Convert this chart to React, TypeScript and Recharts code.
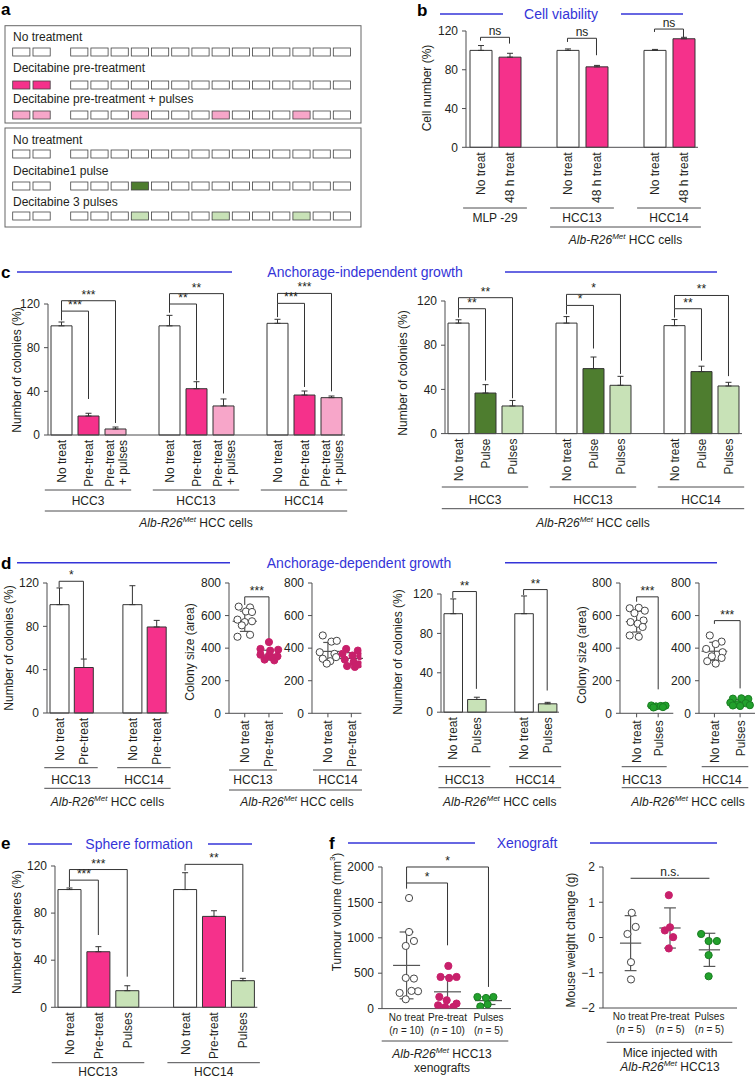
import React from 'react';
import { BarChart, Bar, Cell, ErrorBar, XAxis, YAxis, ReferenceLine, ScatterChart, Scatter } from 'recharts';

const FONT = '"Liberation Sans", Arial, Helvetica, sans-serif';
const INK = '#231f20';
const AXIS = '#4d4d4f';
const BLUE = '#3434d8';
const HOT = '#f5318b';
const LPINK = '#f7a6c9';
const DGREEN = '#4e7d2f';
const LGREEN = '#c8e2b7';
const MAG = '#c8206b';
const GREEN = '#22a12c';

// ---- panel a: treatment schedules
const schemeTop = ['No treatment', 'Decitabine pre-treatment', 'Decitabine pre-treatment + pulses'];
const schemeTopPre = [false, true, true];
const schemeTopPulses = [[], [], [3, 7, 11]];
const schemeTopColors = [null, HOT, LPINK];
const schemeBottom = ['No treatment', 'Decitabine1 pulse', 'Decitabine 3 pulses'];
const schemeBottomPre = [false, false, false];
const schemeBottomPulses = [[], [3], [3, 7, 11]];
const schemeBottomColors = [null, DGREEN, LGREEN];

// ---- shared ticks
const pctTicks = [0, 40, 80, 120];
const areaTicks = [0, 200, 400, 600, 800];
const volTicks = [0, 500, 1000, 1500, 2000];
const weightTicks = [-2, -1, 0, 1, 2];

// bracket: [group, from, to, level, fromEnd, toEnd, text]
type Bracket = [number, number, number, number, number, number, string];

// ---- panel b
const bGroups = ['MLP -29', 'HCC13', 'HCC14'];
const bCats = [['No treat'], ['48 h treat']];
const bMean = [[100, 93], [100, 83], [100, 112]];
const bErr = [[5, 4], [1.5, 1.5], [1, 1.5]];
const bFills = ['#ffffff', HOT];
const bSig: Bracket[] = [[0, 0, 1, 113.5, 110, 107, 'ns'], [1, 0, 1, 112.5, 108.7, 95, 'ns'], [2, 0, 1, 122, 119, 113.5, 'ns']];

// ---- panel c
const cGroups = ['HCC3', 'HCC13', 'HCC14'];
const cPreCats = [['No treat'], ['Pre-treat'], ['Pre-treat', '+ pulses']];
const cPreMean = [[100, 17.4, 5.5], [100, 42.4, 26.6], [102.3, 36.6, 34.2]];
const cPreErr = [[3.5, 2.5, 1.8], [9.6, 6.4, 6.4], [3.7, 3.7, 1.5]];
const cPreFills = ['#ffffff', HOT, LPINK];
const cPreSig: Bracket[] = [
  [0, 0, 1, 113.5, 105, 33, '***'], [0, 0, 2, 123, 113.5, 11, '***'],
  [1, 0, 1, 120, 112, 50, '**'], [1, 0, 2, 129.5, 120, 38, '**'],
  [2, 0, 1, 120.6, 108, 44, '***'], [2, 0, 2, 129.7, 120.6, 40, '***'],
];
const cPulseCats = [['No treat'], ['Pulse'], ['Pulses']];
const cPulseMean = [[100, 36.7, 25], [100, 58.8, 43.7], [97.7, 56.1, 43.1]];
const cPulseErr = [[3, 7.6, 5], [5.9, 10.5, 8.1], [5.5, 4.9, 3.3]];
const cPulseFills = ['#ffffff', DGREEN, LGREEN];
const cPulseSig: Bracket[] = [
  [0, 0, 1, 113, 105, 48, '**'], [0, 0, 2, 123, 113, 32, '**'],
  [1, 0, 1, 116, 108, 77, '*'], [1, 0, 2, 126, 116, 54, '*'],
  [2, 0, 1, 113, 105, 66, '**'], [2, 0, 2, 125, 113, 52, '**'],
];

// ---- panel d
const dGroups = ['HCC13', 'HCC14'];
const dPreCats = [['No treat'], ['Pre-treat']];
const dPreMean = [[100, 42], [100, 79.4]];
const dPreErr = [[15.4, 7.8], [17.5, 6.1]];
const dPreFills = ['#ffffff', HOT];
const dPreSig: Bracket[] = [[0, 0, 1, 121.6, 116, 50, '*']];
const dPulseCats = [['No treat'], ['Pulses']];
const dPulseMean = [[100, 12.9], [100, 8.5]];
const dPulseErr = [[15, 2.3], [18, 1.5]];
const dPulseFills = ['#ffffff', LGREEN];
const dPulseSig: Bracket[] = [[0, 0, 1, 122.5, 116, 23.7, '**'], [1, 0, 1, 124.5, 119, 22, '**']];

const sizePreCats = ['No treat', 'Pre-treat'];
const sizePulseCats = ['No treat', 'Pulses'];
const d13NoTreat = [[-0.25, 655], [0.22, 650], [0.05, 625], [0.3, 622], [-0.3, 575], [0, 560], [0.3, 565], [-0.12, 540], [-0.3, 470], [0.22, 482]];
const d13PreTreat = [[0, 437], [-0.35, 395], [0.05, 385], [0.38, 390], [-0.35, 360], [0, 355], [0.35, 350], [-0.18, 330], [0.22, 325], [0.12, 345]];
const d14NoTreat = [[-0.22, 478], [0.15, 440], [0.38, 445], [-0.35, 375], [0.28, 365], [-0.22, 335], [0.1, 320], [0.35, 345], [-0.05, 305]];
const d14PreTreat = [[-0.22, 395], [0.28, 385], [-0.38, 365], [0.05, 355], [0.38, 350], [-0.28, 330], [0.1, 315], [0.32, 300], [-0.18, 290], [0.15, 285]];
const d13NoTreatB = [[-0.32, 645], [0.1, 648], [0.38, 630], [-0.1, 615], [0.32, 570], [-0.28, 560], [0.05, 550], [0.28, 530], [-0.32, 478], [0.1, 470]];
const d13Pulses = [[-0.32, 48], [-0.1, 42], [0.12, 45], [0.34, 47], [-0.22, 36], [0.22, 38]];
const d14NoTreatB = [[-0.18, 478], [0.28, 440], [0.05, 425], [-0.32, 395], [0.32, 375], [-0.1, 350], [0.28, 340], [-0.28, 320], [0.05, 305]];
const d14Pulses = [[-0.28, 90], [0.05, 92], [0.32, 88], [-0.38, 65], [0.22, 62], [-0.1, 55], [0.38, 50], [0, 45], [-0.28, 48]];
const d13PreStats = [[565, 62], [357, 30]];
const d14PreStats = [[380, 55], [337, 35]];
const d13PulseStats = [[563, 64], [43, 5]];
const d14PulseStats = [[381, 55], [66, 18]];
const d13PreSig: Bracket[] = [[0, 0, 1, 715, 665, 450, '***']];
const d13PulseSig: Bracket[] = [[0, 0, 1, 715, 685, 147, '***']];
const d14PulseSig: Bracket[] = [[0, 0, 1, 569, 549, 153, '***']];

// ---- panel e
const eGroups = ['HCC13', 'HCC14'];
const eCats = [['No treat'], ['Pre-treat'], ['Pulses']];
const eMean = [[100, 47.2, 14.1], [100, 77.2, 22.6]];
const eErr = [[1.3, 4.3, 4.2], [14.3, 4.8, 2]];
const eFills = ['#ffffff', HOT, LGREEN];
const eSig: Bracket[] = [[0, 0, 1, 108, 102, 61.4, '***'], [0, 0, 2, 117, 108, 26, '***'], [1, 0, 2, 121.4, 116, 30, '**']];

// ---- panel f
const fCats = ['No treat', 'Pre-treat', 'Pulses'];
const fTumourN = [10, 10, 5];
const fWeightN = [5, 5, 5];
const fTumourNoTreat = [[0.06, 1562], [0.06, 1082], [0.18, 955], [-0.02, 885], [-0.02, 433], [0.18, 424], [-0.17, 221], [0.28, 245], [0.12, 250], [-0.02, 132]];
const fTumourPre = [[0.02, 602], [-0.17, 447], [0.04, 433], [0.22, 447], [-0.2, 165], [-0.02, 118], [0.22, 71], [-0.23, 47], [-0.06, 20], [0.14, 24]];
const fTumourPulses = [[-0.27, 164], [-0.06, 150], [0.12, 164], [-0.2, 30], [-0.02, 60]];
const fTumourStats = [[610, 472], [237, 212], [113, 55]];
const fTumourSig: Bracket[] = [[0, 0, 1, 1774, 1694, 894, '*'], [0, 0, 2, 2000, 1774, 306, '*']];
const fWeightNoTreat = [[0.03, 0.7], [0.13, 0.3], [-0.08, 0.1], [0.01, -0.7], [0.01, -1.19]];
const fWeightPre = [[-0.03, 1.2], [-0.13, 0.2], [0, 0.29], [0.08, 0.01], [-0.03, -0.31]];
const fWeightPulses = [[-0.21, 0.1], [-0.02, -0.1], [0.19, -0.1], [-0.02, -0.5], [-0.02, -1.1]];
const fWeightStats = [[-0.16, 0.78], [0.27, 0.57], [-0.35, 0.47]];
const fWeightSig: Bracket[] = [[0, 0, 2, 1.68, 1.68, 1.68, 'n.s.']];

// ---------- layout
type Geo = { x0: number; x1: number; yTop: number; yBot: number };
const YAW = 44, MT = 46, MR = 6, XAH = 64;
const boxOf = (g: Geo) => ({
  left: g.x0 - YAW,
  top: g.yTop - MT,
  width: g.x1 - g.x0 + YAW + MR,
  height: g.yBot - g.yTop + MT + XAH,
});

const geoB: Geo = { x0: 466, x1: 698, yTop: 30.7, yBot: 147 };
const geoC1: Geo = { x0: 47.5, x1: 344.5, yTop: 304, yBot: 435 };
const geoC2: Geo = { x0: 444.5, x1: 741.5, yTop: 300.7, yBot: 433.3 };
const geoD1: Geo = { x0: 46.7, x1: 168.2, yTop: 583.3, yBot: 713.3 };
const geoD2: Geo = { x0: 229.3, x1: 283.3, yTop: 583, yBot: 713.3 };
const geoD3: Geo = { x0: 312.3, x1: 361.7, yTop: 583, yBot: 713.3 };
const geoD4: Geo = { x0: 440.8, x1: 558.8, yTop: 593.5, yBot: 711.7 };
const geoD5: Geo = { x0: 620, x1: 673.3, yTop: 583, yBot: 713.3 };
const geoD6: Geo = { x0: 699, x1: 755, yTop: 583, yBot: 713.3 };
const geoE: Geo = { x0: 54.7, x1: 257, yTop: 866, yBot: 1007.3 };
const geoF1: Geo = { x0: 382, x1: 511, yTop: 866.7, yBot: 1008.3 };
const geoF2: Geo = { x0: 602.7, x1: 736.7, yTop: 867.3, yBot: 1008.3 };

type Row = { key: string; lines: string[]; value: number | null; err?: [number, number]; fill: string };

function buildRows(id: string, groups: string[], cats: string[][], means: number[][], errs: number[][], fills: string[]) {
  const rows: Row[] = [];
  const spans: [number, number][] = [];
  groups.forEach((_, gi) => {
    if (gi > 0) rows.push({ key: `${id}-gap${gi}`, lines: [], value: null, fill: 'none' });
    const start = rows.length;
    cats.forEach((c, ci) =>
      rows.push({ key: `${id}-${gi}-${ci}`, lines: c, value: means[gi][ci], err: [0, errs[gi][ci]], fill: fills[ci] })
    );
    spans.push([start, rows.length - 1]);
  });
  return { rows, spans };
}

const bData = buildRows('b', bGroups, bCats, bMean, bErr, bFills);
const c1Data = buildRows('c1', cGroups, cPreCats, cPreMean, cPreErr, cPreFills);
const c2Data = buildRows('c2', cGroups, cPulseCats, cPulseMean, cPulseErr, cPulseFills);
const d1Data = buildRows('d1', dGroups, dPreCats, dPreMean, dPreErr, dPreFills);
const d4Data = buildRows('d4', dGroups, dPulseCats, dPulseMean, dPulseErr, dPulseFills);
const eData = buildRows('e', eGroups, eCats, eMean, eErr, eFills);

function bracketLines(xOf: (g: number, c: number) => string | number, list: Bracket[]) {
  const common = { stroke: '#333', strokeWidth: 1, ifOverflow: 'visible' as const };
  return list.flatMap((b, i) => {
    const [g, a, c, level, aEnd, cEnd, text] = b;
    const xa = xOf(g, a);
    const xc = xOf(g, c);
    const out = [
      <ReferenceLine key={`h${i}`} {...common} segment={[{ x: xa, y: level }, { x: xc, y: level }]}
        label={{ value: text, position: 'top', offset: 2, fontSize: 12, fill: INK }} />,
    ];
    if (aEnd !== level) out.push(<ReferenceLine key={`a${i}`} {...common} segment={[{ x: xa, y: level }, { x: xa, y: aEnd }]} />);
    if (cEnd !== level) out.push(<ReferenceLine key={`c${i}`} {...common} segment={[{ x: xc, y: level }, { x: xc, y: cEnd }]} />);
    return out;
  });
}

function RotTick(props: any) {
  const { x, y, payload, labelOf } = props;
  const lines: string[] = labelOf(payload.value) || [];
  return (
    <g transform={`translate(${x},${y})`}>
      {lines.map((ln, j) => (
        <text key={j} transform="rotate(-90)" x={0} y={(j - (lines.length - 1) / 2) * 13 + 4.5}
          textAnchor="end" fontSize={12} fill={INK}>{ln}</text>
      ))}
    </g>
  );
}

function StackTick(props: any) {
  const { x, y, payload, cats, ns } = props;
  const i = Math.floor(payload.value);
  return (
    <g transform={`translate(${x},${y})`}>
      <text x={0} y={10} textAnchor="middle" fontSize={10} fill={INK}>{cats[i]}</text>
      <text x={0} y={23} textAnchor="middle" fontSize={10} fill={INK}>
        (<tspan fontStyle="italic">n</tspan> = {ns[i]})
      </text>
    </g>
  );
}

const yAxisProps = {
  width: YAW,
  tickSize: 4,
  tickMargin: 4,
  axisLine: { stroke: AXIS },
  tickLine: { stroke: AXIS },
  tick: { fontSize: 12, fill: INK },
  interval: 0 as const,
};

function BarPanel({ geo, data, barSize, sig }: { geo: Geo; data: { rows: Row[] }; barSize: number; sig: Bracket[] }) {
  const box = boxOf(geo);
  const labels: Record<string, string[]> = Object.fromEntries(data.rows.map((r) => [r.key, r.lines]));
  const id = data.rows[0].key.split('-')[0];
  return (
    <div style={{ position: 'absolute', left: box.left, top: box.top }}>
      <BarChart width={box.width} height={box.height} data={data.rows} margin={{ top: MT, right: MR, bottom: 0, left: 0 }}>
        <XAxis dataKey="key" interval={0} height={XAH} tickLine={false} tickSize={0} tickMargin={5}
          axisLine={{ stroke: AXIS }} tick={(p: any) => <RotTick {...p} labelOf={(v: string) => labels[v]} />} />
        <YAxis {...yAxisProps} type="number" domain={[0, 120]} ticks={pctTicks} />
        <Bar dataKey="value" barSize={barSize} stroke="#333" strokeWidth={1} isAnimationActive={false}>
          {data.rows.map((r) => <Cell key={r.key} fill={r.fill} />)}
          <ErrorBar dataKey="err" width={3} stroke="#333" strokeWidth={1} direction="y" isAnimationActive={false} />
        </Bar>
        {bracketLines((g, c) => `${id}-${g}-${c}`, sig)}
      </BarChart>
    </div>
  );
}

type DotSet = { pts: number[][]; fill: string; stroke: string };

function DotPanel(props: {
  geo: Geo; xDomain: [number, number]; yTicks: number[]; cats: string[]; sets: DotSet[];
  stats: number[][]; sig: Bracket[]; half: number; cap: number; mode: 'rot' | 'stack'; ns?: number[];
  yFmt?: (v: number) => string;
}) {
  const { geo, xDomain, yTicks, cats, sets, stats, sig, half, cap, mode, ns, yFmt } = props;
  const box = boxOf(geo);
  const xTicks = cats.map((_, i) => i + 0.5);
  const line = { stroke: '#555', strokeWidth: 1.2, ifOverflow: 'visible' as const };
  return (
    <div style={{ position: 'absolute', left: box.left, top: box.top }}>
      <ScatterChart width={box.width} height={box.height} margin={{ top: MT, right: MR, bottom: 0, left: 0 }}>
        <XAxis type="number" dataKey="x" domain={xDomain} ticks={xTicks} allowDataOverflow interval={0} height={XAH}
          tickLine={mode === 'rot' ? { stroke: AXIS } : false} tickSize={mode === 'rot' ? 4 : 0} tickMargin={mode === 'rot' ? 3 : 2}
          axisLine={{ stroke: AXIS }}
          tick={(p: any) => mode === 'rot'
            ? <RotTick {...p} labelOf={(v: number) => [cats[Math.floor(v)]]} />
            : <StackTick {...p} cats={cats} ns={ns} />} />
        <YAxis {...yAxisProps} type="number" dataKey="y" domain={[yTicks[0], yTicks[yTicks.length - 1]]} ticks={yTicks}
          tickFormatter={yFmt} allowDataOverflow />
        {stats.flatMap(([m, sd], i) => {
          const c = i + 0.5;
          return [
            <ReferenceLine key={`m${i}`} {...line} segment={[{ x: c - half, y: m }, { x: c + half, y: m }]} />,
            <ReferenceLine key={`v${i}`} {...line} segment={[{ x: c, y: m - sd }, { x: c, y: m + sd }]} />,
            <ReferenceLine key={`t${i}`} {...line} segment={[{ x: c - cap, y: m + sd }, { x: c + cap, y: m + sd }]} />,
            <ReferenceLine key={`b${i}`} {...line} segment={[{ x: c - cap, y: m - sd }, { x: c + cap, y: m - sd }]} />,
          ];
        })}
        {sets.map((s, i) => (
          <Scatter key={i} data={s.pts.map(([dx, v]) => ({ x: i + 0.5 + dx, y: v }))} isAnimationActive={false}
            shape={(p: any) => <circle cx={p.cx} cy={p.cy} r={3.6} fill={s.fill} stroke={s.stroke} strokeWidth={1} />} />
        ))}
        {bracketLines((_g, c) => c + 0.5, sig)}
      </ScatterChart>
    </div>
  );
}

// ---------- overlay (panel a, titles, axis titles, group labels)
function Alb({ x, y, rest }: { x: number; y: number; rest: string }) {
  return (
    <text x={x} y={y} textAnchor="middle" fontSize={12} fill={INK}>
      <tspan fontStyle="italic">Alb-R26</tspan>
      <tspan fontStyle="italic" fontSize={8} dy={-5}>Met</tspan>
      <tspan dy={5}>{rest}</tspan>
    </text>
  );
}

function VLabel({ x, y, children }: { x: number; y: number; children: React.ReactNode }) {
  return (
    <text transform={`translate(${x},${y}) rotate(-90)`} textAnchor="middle" dominantBaseline="central" fontSize={12} fill={INK}>
      {children}
    </text>
  );
}

function Header({ l1, l2, y, title, tx }: { l1: [number, number]; l2: [number, number]; y: number; title: string; tx: number }) {
  return (
    <g>
      <line x1={l1[0]} x2={l1[1]} y1={y} y2={y} stroke={BLUE} strokeWidth={1.5} />
      <line x1={l2[0]} x2={l2[1]} y1={y} y2={y} stroke={BLUE} strokeWidth={1.5} />
      <text x={tx} y={y + 5} textAnchor="middle" fontSize={14} fill={BLUE}>{title}</text>
    </g>
  );
}

function GroupMarks({ geo, data, names, lineY, labelY, outer, outerY, outerLabelY }: {
  geo: Geo; data: { rows: Row[]; spans: [number, number][] }; names: string[]; lineY: number; labelY: number;
  outer?: [number, number]; outerY?: number; outerLabelY?: number;
}) {
  const n = data.rows.length;
  const step = (geo.x1 - geo.x0) / n;
  const cx = (i: number) => geo.x0 + step * (i + 0.5);
  const ext = step * 0.6;
  let outerEl = null;
  if (outer && outerY !== undefined && outerLabelY !== undefined) {
    const a = cx(data.spans[outer[0]][0]) - ext;
    const b = cx(data.spans[outer[1]][1]) + ext;
    outerEl = (
      <g>
        <line x1={a} x2={b} y1={outerY} y2={outerY} stroke={AXIS} />
        <Alb x={(a + b) / 2} y={outerLabelY} rest=" HCC cells" />
      </g>
    );
  }
  return (
    <g>
      {data.spans.map(([s, e], gi) => (
        <g key={gi}>
          <line x1={cx(s) - ext} x2={cx(e) + ext} y1={lineY} y2={lineY} stroke={AXIS} />
          <text x={(cx(s) + cx(e)) / 2} y={labelY} textAnchor="middle" fontSize={12} fill={INK}>{names[gi]}</text>
        </g>
      ))}
      {outerEl}
    </g>
  );
}

function Schedule({ box, textY, sqY, labels, pre, pulses, colors }: {
  box: [number, number]; textY: number[]; sqY: number[]; labels: string[]; pre: boolean[]; pulses: number[][]; colors: (string | null)[];
}) {
  const slotX = (i: number) => (i < 2 ? 12.7 + i * 20.3 : 70.7 + (i - 2) * 20.2);
  const slots = Array.from({ length: 16 }, (_, i) => i);
  return (
    <g>
      <rect x={5} y={box[0]} width={356} height={box[1]} fill="none" stroke="#666" strokeWidth={1} />
      {labels.map((lab, r) => (
        <g key={r}>
          <text x={13} y={textY[r]} fontSize={12} fill={INK}>{lab}</text>
          {slots.map((i) => {
            const on = i < 2 ? pre[r] : pulses[r].includes(i - 2);
            return (
              <rect key={i} x={slotX(i)} y={sqY[r]} width={17.2} height={8}
                fill={on ? (colors[r] as string) : '#fff'} stroke="#444" strokeWidth={0.8} />
            );
          })}
        </g>
      ))}
    </g>
  );
}

function Overlay() {
  const letter = (t: string, x: number, y: number) => (
    <text x={x} y={y} fontSize={17} fontWeight="bold" fill="#000">{t}</text>
  );
  return (
    <svg width={755} height={1078} style={{ position: 'absolute', left: 0, top: 0, pointerEvents: 'none' }} fontFamily={FONT}>
      {letter('a', 1, 15)}
      {letter('b', 417, 16)}
      {letter('c', 1, 278)}
      {letter('d', 1, 569)}
      {letter('e', 1, 849)}
      {letter('f', 329, 849)}

      <Schedule box={[25.7, 97.3]} textY={[41, 72, 103]} sqY={[48, 81, 111]} labels={schemeTop}
        pre={schemeTopPre} pulses={schemeTopPulses} colors={schemeTopColors} />
      <Schedule box={[128, 99]} textY={[144, 175, 206]} sqY={[150, 182, 212]} labels={schemeBottom}
        pre={schemeBottomPre} pulses={schemeBottomPulses} colors={schemeBottomColors} />

      <Header l1={[440, 503]} l2={[621, 683]} y={14} title="Cell viability" tx={561} />
      <Header l1={[17, 232]} l2={[505, 717]} y={272} title="Anchorage-independent growth" tx={365} />
      <Header l1={[17, 230]} l2={[505, 717]} y={562.7} title="Anchorage-dependent growth" tx={359} />
      <Header l1={[28, 72]} l2={[208, 252]} y={844} title="Sphere formation" tx={139} />
      <Header l1={[348, 475]} l2={[590, 717]} y={843} title="Xenograft" tx={527} />

      <VLabel x={427} y={88}>Cell number (%)</VLabel>
      <VLabel x={17} y={370}>Number of colonies (%)</VLabel>
      <VLabel x={403} y={373}>Number of colonies (%)</VLabel>
      <VLabel x={9} y={648}>Number of colonies (%)</VLabel>
      <VLabel x={190} y={652}>Colony size (area)</VLabel>
      <VLabel x={398} y={652}>Number of colonies (%)</VLabel>
      <VLabel x={582} y={655}>Colony size (area)</VLabel>
      <VLabel x={17} y={932}>Number of spheres (%)</VLabel>
      <VLabel x={337} y={912}>
        Tumour volume (mm<tspan fontSize={8} dy={-5}>3</tspan><tspan dy={5}>)</tspan>
      </VLabel>
      <VLabel x={571} y={940}>Mouse weight change (g)</VLabel>

      <GroupMarks geo={geoB} data={bData} names={bGroups} lineY={208} labelY={222} outer={[1, 2]} outerY={227} outerLabelY={244} />
      <GroupMarks geo={geoC1} data={c1Data} names={cGroups} lineY={490} labelY={505} outer={[0, 2]} outerY={511} outerLabelY={527} />
      <GroupMarks geo={geoC2} data={c2Data} names={cGroups} lineY={487} labelY={504} outer={[0, 2]} outerY={508.7} outerLabelY={527} />
      <GroupMarks geo={geoD1} data={d1Data} names={dGroups} lineY={767.7} labelY={784} outer={[0, 1]} outerY={788.3} outerLabelY={806} />
      <GroupMarks geo={geoD4} data={d4Data} names={dGroups} lineY={766.7} labelY={784} outer={[0, 1]} outerY={787.7} outerLabelY={806} />
      <GroupMarks geo={geoE} data={eData} names={eGroups} lineY={1062.7} labelY={1076} />

      {/* colony size groups */}
      <line x1={229} x2={277} y1={770} y2={770} stroke={AXIS} />
      <line x1={313} x2={362} y1={770} y2={770} stroke={AXIS} />
      <text x={253} y={784} textAnchor="middle" fontSize={12} fill={INK}>HCC13</text>
      <text x={338} y={784} textAnchor="middle" fontSize={12} fill={INK}>HCC14</text>
      <line x1={229} x2={362} y1={790} y2={790} stroke={AXIS} />
      <Alb x={297} y={806} rest=" HCC cells" />

      <line x1={621.7} x2={666.7} y1={766.7} y2={766.7} stroke={AXIS} />
      <line x1={701.7} x2={748.3} y1={766.7} y2={766.7} stroke={AXIS} />
      <text x={642} y={784} textAnchor="middle" fontSize={12} fill={INK}>HCC13</text>
      <text x={722} y={784} textAnchor="middle" fontSize={12} fill={INK}>HCC14</text>
      <line x1={621.7} x2={748.3} y1={787.7} y2={787.7} stroke={AXIS} />
      <Alb x={688} y={806} rest=" HCC cells" />

      {/* xenograft captions */}
      <line x1={381.7} x2={508.3} y1={1041} y2={1041} stroke={AXIS} />
      <Alb x={442} y={1058} rest=" HCC13" />
      <text x={442} y={1072} textAnchor="middle" fontSize={12} fill={INK}>xenografts</text>
      <line x1={606.7} x2={732.3} y1={1042.3} y2={1042.3} stroke={AXIS} />
      <text x={670} y={1057} textAnchor="middle" fontSize={12} fill={INK}>Mice injected with</text>
      <Alb x={670} y={1071} rest=" HCC13" />
    </svg>
  );
}

const minus = (v: number) => (v < 0 ? `\u2212${Math.abs(v)}` : String(v));
const openDot = { fill: '#ffffff', stroke: '#444' };

export default function App() {
  return (
    <div style={{ position: 'absolute', left: 0, top: 0, width: 755, height: 1078, overflow: 'hidden', background: '#fff', fontFamily: FONT }}>
      <BarPanel geo={geoB} data={bData} barSize={22} sig={bSig} />
      <BarPanel geo={geoC1} data={c1Data} barSize={21} sig={cPreSig} />
      <BarPanel geo={geoC2} data={c2Data} barSize={21} sig={cPulseSig} />
      <BarPanel geo={geoD1} data={d1Data} barSize={19} sig={dPreSig} />
      <BarPanel geo={geoD4} data={d4Data} barSize={18.5} sig={dPulseSig} />
      <BarPanel geo={geoE} data={eData} barSize={23} sig={eSig} />

      <DotPanel geo={geoD2} xDomain={[-0.15, 2.08]} yTicks={areaTicks} cats={sizePreCats} mode="rot" half={0.5} cap={0.2}
        sets={[{ pts: d13NoTreat, ...openDot }, { pts: d13PreTreat, fill: MAG, stroke: MAG }]} stats={d13PreStats} sig={d13PreSig} />
      <DotPanel geo={geoD3} xDomain={[-0.18, 1.93]} yTicks={areaTicks} cats={sizePreCats} mode="rot" half={0.5} cap={0.2}
        sets={[{ pts: d14NoTreat, ...openDot }, { pts: d14PreTreat, fill: MAG, stroke: MAG }]} stats={d14PreStats} sig={[]} />
      <DotPanel geo={geoD5} xDomain={[-0.27, 2.2]} yTicks={areaTicks} cats={sizePulseCats} mode="rot" half={0.5} cap={0.2}
        sets={[{ pts: d13NoTreatB, ...openDot }, { pts: d13Pulses, fill: GREEN, stroke: '#1a7d22' }]} stats={d13PulseStats} sig={d13PulseSig} />
      <DotPanel geo={geoD6} xDomain={[-0.1, 2.08]} yTicks={areaTicks} cats={sizePulseCats} mode="rot" half={0.5} cap={0.2}
        sets={[{ pts: d14NoTreatB, ...openDot }, { pts: d14Pulses, fill: GREEN, stroke: '#1a7d22' }]} stats={d14PulseStats} sig={d14PulseSig} />

      <DotPanel geo={geoF1} xDomain={[-0.1, 3.05]} yTicks={volTicks} cats={fCats} mode="stack" ns={fTumourN} half={0.33} cap={0.17}
        sets={[{ pts: fTumourNoTreat, ...openDot }, { pts: fTumourPre, fill: MAG, stroke: MAG }, { pts: fTumourPulses, fill: GREEN, stroke: '#1a7d22' }]}
        stats={fTumourStats} sig={fTumourSig} />
      <DotPanel geo={geoF2} xDomain={[-0.2, 3.2]} yTicks={weightTicks} cats={fCats} mode="stack" ns={fWeightN} half={0.27} cap={0.15}
        yFmt={minus}
        sets={[{ pts: fWeightNoTreat, ...openDot }, { pts: fWeightPre, fill: MAG, stroke: MAG }, { pts: fWeightPulses, fill: GREEN, stroke: '#1a7d22' }]}
        stats={fWeightStats} sig={fWeightSig} />

      <Overlay />
    </div>
  );
}
